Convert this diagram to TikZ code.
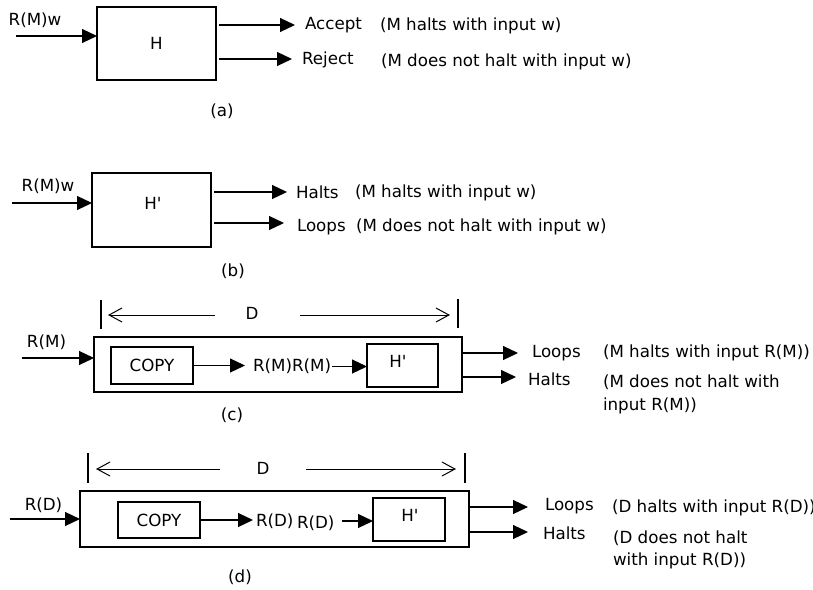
\documentclass[tikz,border=0pt]{standalone}
\usepackage{fontspec}
\setmainfont{DejaVu Sans}
\usetikzlibrary{arrows.meta}
\newcommand{\Hp}{H\textquotesingle}
\begin{document}
\begin{tikzpicture}[x=1pt,y=-1pt,
  every node/.style={font=\fontsize{16.7}{20}\selectfont, inner sep=0pt, outer sep=0pt},
  blk/.style={draw, line width=1.2pt, rectangle},
  flow/.style={line width=1.2pt, -{Triangle[length=15pt,width=14pt]}},
  span/.style={line width=1pt, -{Straight Barb[length=13pt,width=14pt]}},
  tick/.style={line width=1.2pt},
  txt/.style={anchor=west},
  txtb/.style={anchor=base west}]
\useasboundingbox (0,0) rectangle (813,589);

% ---------- (a) the decider H ----------
\node[blk, minimum width=119, minimum height=73] (H) at (156.5,43.5) {H};
\node (a-inl) at (35,20) {R(M)w};
\coordinate (a-in) at (16,36);
\draw[flow] (a-in) -- (a-in -| H.west);
\node[txt] (a-acc) at (305,25) {Accept};
\node[txt] (a-accd) at (380,25.5) {(M halts with input w)};
\node[txt] (a-rej) at (302,60) {Reject};
\node[txt] (a-rejd) at (381,61.5) {(M does not halt with input w)};
\coordinate (a-t1) at (295,25);
\coordinate (a-t2) at (292,59);
\draw[flow] ([xshift=3]a-t1 -| H.east) -- (a-t1);
\draw[flow] ([xshift=3]a-t2 -| H.east) -- (a-t2);
\node (a-cap) at (222,111) {(a)};

% ---------- (b) the modified machine H' ----------
\node[blk, minimum width=119, minimum height=74] (Hb) at (151.5,210) {};
\node (Hb-t) at (153,203.5) {\Hp};
\node (b-inl) at (48,186) {R(M)w};
\coordinate (b-in) at (12,203);
\draw[flow] (b-in) -- (b-in -| Hb.west);
\node[txt] (b-halt) at (296,192.5) {Halts};
\node[txt] (b-haltd) at (355,192.5) {(M halts with input w)};
\node[txt] (b-loop) at (297,227) {Loops};
\node[txt] (b-loopd) at (356,226.5) {(M does not halt with input w)};
\coordinate (b-t1) at (287,192);
\coordinate (b-t2) at (284,223);
\draw[flow] ([xshift=3]b-t1 -| Hb.east) -- (b-t1);
\draw[flow] ([xshift=3]b-t2 -| Hb.east) -- (b-t2);
\node (b-cap) at (233,271) {(b)};

% ---------- (c) the machine D built from COPY and H' ----------
\node[blk, minimum width=368, minimum height=55] (Dc) at (278,364.5) {};
\draw[tick] (101,300) -- (101,329);
\draw[tick] (458,299) -- (458,328);
\node (c-D) at (252,313) {D};
\coordinate (c-dl) at (215,315);
\coordinate (c-dr) at (300,315);
\draw[span] (c-dl) -- (108,315);
\draw[span] (c-dr) -- (450,315);
\node (c-inl) at (46.5,342.5) {R(M)};
\coordinate (c-in) at (22,358);
\draw[flow] (c-in) -- (c-in -| Dc.west);
\node[blk, minimum width=82, minimum height=37] (c-copy) at (152,365.5) {COPY};
\node[txt] (c-rr) at (253,366.5) {R(M)R(M)};
\node[blk, minimum width=71, minimum height=43] (c-h) at (402.5,365.5) {};
\node (c-ht) at (398,361.5) {\Hp};
\draw[flow] (c-copy.east) -- ([xshift=-8]c-rr.west |- c-copy.east);
\draw[flow] ([xshift=1]c-rr.east) -- (c-h.west |- c-rr.east);
\node[txt] (c-loop) at (532,353.5) {Loops};
\node[txt] (c-loopd) at (603,353) {(M halts with input R(M))};
\node[txt] (c-halt) at (528,379) {Halts};
\node[txtb] (c-haltd1) at (603,387.5) {(M does not halt with};
\node[txtb] (c-haltd2) at (603,410.5) {input R(M))};
\coordinate (c-t1) at (518,353);
\coordinate (c-t2) at (516,377);
\draw[flow] ([xshift=1]c-t1 -| Dc.east) -- (c-t1);
\draw[flow] ([xshift=1]c-t2 -| Dc.east) -- (c-t2);
\node (c-cap) at (232,415) {(c)};

% ---------- (d) D run on its own description ----------
\node[blk, minimum width=389, minimum height=56] (Dd) at (274.5,519) {};
\draw[tick] (88,453) -- (88,483);
\draw[tick] (465,453) -- (465,483);
\node (d-D) at (263,468) {D};
\coordinate (d-dl) at (220,469);
\coordinate (d-dr) at (306,469);
\draw[span] (d-dl) -- (96,469);
\draw[span] (d-dr) -- (456,469);
\node (d-inl) at (43.5,505.5) {R(D)};
\coordinate (d-in) at (10,519);
\draw[flow] (d-in) -- (d-in -| Dd.west);
\node[blk, minimum width=82, minimum height=36] (d-copy) at (159,520) {COPY};
\node[txt] (d-r1) at (256,521) {R(D)};
\node[txt] (d-r2) at (297,523) {R(D)};
\node[blk, minimum width=72, minimum height=43] (d-h) at (409,519.5) {};
\node (d-ht) at (410,515) {\Hp};
\draw[flow] (d-copy.east) -- ([xshift=-3]d-r1.west |- d-copy.east);
\draw[flow] ([xshift=8]d-r2.east |- 0,521) -- (d-h.west |- 0,521);
\node[txt] (d-loop) at (545,506.5) {Loops};
\node[txt] (d-loopd) at (612,508) {(D halts with input R(D))};
\node[txt] (d-halt) at (543,533) {Halts};
\node[txtb] (d-haltd1) at (613,543) {(D does not halt};
\node[txtb] (d-haltd2) at (613,565) {with input R(D))};
\coordinate (d-t1) at (528,507);
\coordinate (d-t2) at (528,532);
\draw[flow] ([xshift=1]d-t1 -| Dd.east) -- (d-t1);
\draw[flow] ([xshift=1]d-t2 -| Dd.east) -- (d-t2);
\node (d-cap) at (240,577) {(d)};
\end{tikzpicture}
\end{document}
